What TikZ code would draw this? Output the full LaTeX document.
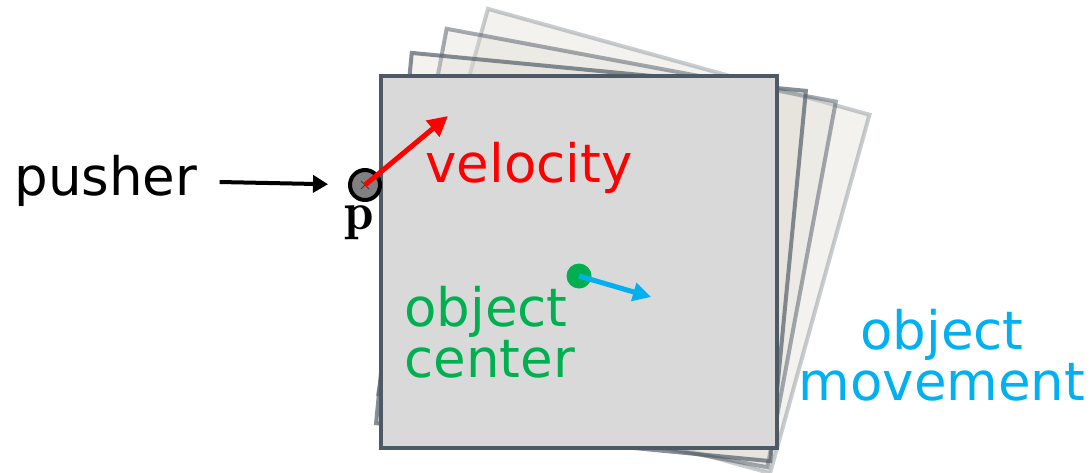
\documentclass[tikz,border=0pt]{standalone}
\usepackage{fontspec}
\setsansfont{DejaVu Sans}
\usetikzlibrary{arrows.meta,positioning}
\definecolor{slate}{RGB}{77,89,101}
\definecolor{boxgray}{RGB}{217,217,217}
\definecolor{ghost}{RGB}{219,216,207}
\definecolor{velred}{RGB}{255,0,0}
\definecolor{centgreen}{RGB}{0,176,80}
\definecolor{movblue}{RGB}{0,176,240}
\tikzset{
 objbox/.style={
 draw=slate,
 fill=boxgray,
 line width=2.25pt
 },
 ghostbox/.style={
 draw=slate,
 fill=ghost,
 fill opacity=0.33,
 line width=2pt
 },
 lbl/.style={
 font=\sffamily\fontsize{26.5pt}{25.5pt}\selectfont,
 inner sep=0pt
 },
 pushdot/.style={
 circle,
 draw=black,
 fill=black!50,
 line width=2pt,
 minimum size=15pt,
 inner sep=0pt,
 path picture={
 \draw[black!75, line width=0.5pt]
 ([shift={(-2pt,-2pt)}]path picture bounding box.center) -- ++(4pt,4pt)
 ([shift={(-2pt,2pt)}]path picture bounding box.center) -- ++(4pt,-4pt);
 }
 },
 centdot/.style={
 circle,
 fill=centgreen,
 minimum size=12.5pt,
 inner sep=0pt
 },
 pusharrow/.style={-{Triangle[length=7.5pt, width=8.5pt]}, line width=2pt, draw=black},
 velarrow/.style={-{Triangle[length=10pt, width=10pt]}, line width=2.5pt, draw=velred},
 movarrow/.style={-{Triangle[length=9pt, width=9pt]}, line width=2.5pt, draw=movblue}
}
\begin{document}
\begin{tikzpicture}[x=0.5pt, y=-0.5pt]
 \useasboundingbox (0,0) rectangle (1092,472);
 % moved copies of the object, farthest first
 \foreach \ang/\dx/\dy/\op in {-15.5/50/-21/0.3, -10.6/28/-14/0.5, -5.5/12/-5/0.68}
 \draw[ghostbox, draw opacity=\op, shift={(\dx,\dy)}, rotate around={\ang:(579,262)}]
 (381,76) rectangle (777,448);
 % the object
 \draw[objbox] (381,76) rectangle (777,448);

 \node[pushdot] (dot) at (365,185) {};
 \node[lbl, anchor=base west] (pusher) at (14,195) {pusher};
 \node[font=\fontsize{26.5pt}{25.5pt}\selectfont, inner sep=0pt] (plbl) at (359,223) {$\mathbf{p}$};
 \draw[pusharrow, shorten >=10pt] ([xshift=11pt, yshift=6.5pt]pusher.base east) -- (dot);

 \coordinate (vtip) at (448,116);
 \draw[velarrow] (dot.center) -- (vtip);
 \node[lbl, text=velred, anchor=base west] (vel) at (425,182) {velocity};

 \node[centdot] (com) at (579,276) {};
 \coordinate (mtip) at (651,297);
 \draw[movarrow] (com.center) -- (mtip);
 \node[lbl, text=centgreen, align=left, anchor=base west] (comlbl) at (404,377) {object\\center};
 \node[lbl, text=movblue, align=center, anchor=base] (movlbl) at (942,400) {object\\movement};
\end{tikzpicture}
\end{document}
